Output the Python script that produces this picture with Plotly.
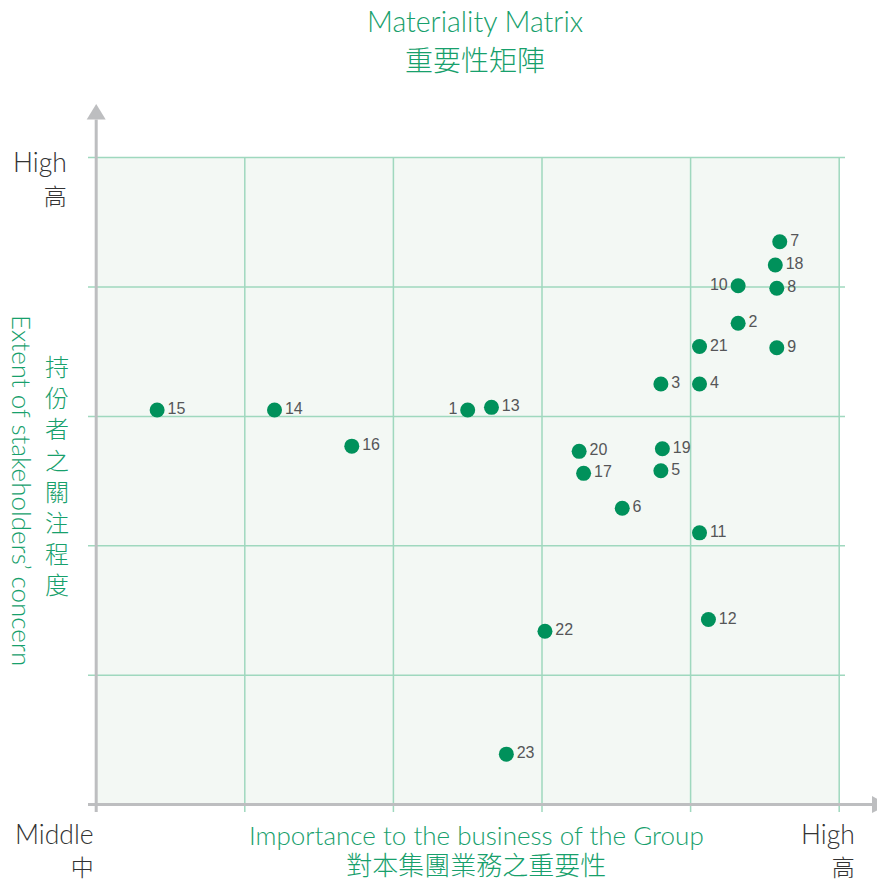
import plotly.graph_objects as go

# Material issues: importance to the Group's business (x) vs stakeholders' concern (y)
issue_ids = [str(i) for i in range(1, 24)]
business_importance = [2.50, 4.32, 3.80, 4.06, 3.80, 3.54, 4.60, 4.58, 4.58, 4.32, 4.06, 4.12,
                       2.66, 1.20, 0.41, 1.72, 3.28, 4.57, 3.81, 3.25, 4.06, 3.02, 2.76]
stakeholder_concern = [3.05, 3.72, 3.25, 3.25, 2.58, 2.29, 4.35, 3.99, 3.53, 4.01, 2.10, 1.43,
                       3.07, 3.05, 3.05, 2.77, 2.56, 4.17, 2.75, 2.73, 3.54, 1.34, 0.39]
left_labelled = ["1", "10"]

grid_steps = [1, 2, 3, 4, 5]

GREEN_TEXT = "#17a06c"
MARKER = "#00915b"
GRID = "#9fd8be"
FILL = "#f3f8f4"
AXIS = "#bdbec0"
DARK = "#333333"
LABEL = "#555658"

W, H = 877, 883
ML, MR, MT, MB = 60, 0, 95, 53

# axis scale: pixels per unit, used for range and overhangs
UX, UY = 148.6, 129.4
OX, OY = 96.2, 804.6
x_range = [(ML - OX) / UX, (W - MR - OX) / UX]
y_range = [(OY - (H - MB)) / UY, (OY - MT) / UY]


def px(xp):
    return (xp - ML) / (W - ML - MR)


def py(yp):
    return ((H - MB) - yp) / (H - MT - MB)


fig = go.Figure()

fig.add_trace(go.Scatter(
    x=business_importance,
    y=stakeholder_concern,
    mode="markers+text",
    text=issue_ids,
    textposition=["middle left" if t in left_labelled else "middle right" for t in issue_ids],
    textfont=dict(family="Liberation Sans, Arial, sans-serif", size=16, color=LABEL),
    marker=dict(size=15, color=MARKER, line=dict(width=0)),
    hoverinfo="skip",
    showlegend=False,
    cliponaxis=False,
))

shapes = []
grid_end = (845 - OX) / UX
tick_x = (88 - OX) / UX
tick_y = (OY - 812) / UY

# shaded matrix area
shapes.append(dict(type="rect", xref="x", yref="y", x0=0, x1=5, y0=0, y1=5,
                   fillcolor=FILL, line=dict(width=0), layer="below"))
# grid lines with small overhangs past the axes
for g in grid_steps:
    shapes.append(dict(type="line", xref="x", yref="y", x0=g, x1=g, y0=tick_y, y1=5,
                       line=dict(color=GRID, width=1.5), layer="below"))
    shapes.append(dict(type="line", xref="x", yref="y", x0=tick_x, x1=grid_end, y0=g, y1=g,
                       line=dict(color=GRID, width=1.5), layer="below"))

# axes with arrow heads
y_tip, y_base = (OY - 104) / UY, (OY - 119.5) / UY
x_tip, x_base = (888 - OX) / UX, (872 - OX) / UX
hw_x = 9.5 / UX
hw_y = 8.5 / UY
shapes.append(dict(type="line", xref="x", yref="y", x0=0, x1=0, y0=tick_y, y1=y_base,
                   line=dict(color=AXIS, width=3), layer="below"))
shapes.append(dict(type="line", xref="x", yref="y", x0=tick_x, x1=x_base, y0=0, y1=0,
                   line=dict(color=AXIS, width=3), layer="below"))
shapes.append(dict(type="path", xref="x", yref="y",
                   path=f"M {-hw_x} {y_base} L {hw_x} {y_base} L 0 {y_tip} Z",
                   fillcolor=AXIS, line=dict(width=0), layer="below"))
shapes.append(dict(type="path", xref="x", yref="y",
                   path=f"M {x_base} {-hw_y} L {x_base} {hw_y} L {x_tip} 0 Z",
                   fillcolor=AXIS, line=dict(width=0), layer="below"))

LATIN = "Lato, 'Open Sans', sans-serif"
CJK = "'Noto Sans CJK TC', 'Noto Sans CJK SC', sans-serif"


def span(text, family, size):
    fam = family.replace("'", "")
    return f"<span style='font-family:{fam};font-size:{size}px'>{text}</span>"


def two_lines(latin, cjk, latin_size, cjk_size):
    return span(latin, LATIN, latin_size) + "<br>" + span(cjk, CJK, cjk_size)


def note(text, x, y, size, color, family, xanchor="center", yanchor="middle",
         angle=0, align="center"):
    # `size` also sets the line pitch of multi-line notes (1.3 x size)
    return dict(text=text, x=px(x), y=py(y), xref="paper", yref="paper",
                showarrow=False, xanchor=xanchor, yanchor=yanchor, textangle=angle,
                align=align, borderpad=0,
                font=dict(family=family, size=size, color=color, weight=300))


annotations = [
    note(two_lines("Materiality Matrix", "重要性矩陣", 28.5, 28), 475, 41.5, 30,
         GREEN_TEXT, LATIN),
    note(two_lines("High", "高", 26.5, 23), 68, 179, 25.4, DARK, LATIN,
         xanchor="right", align="right"),
    note(two_lines("Middle", "中", 26.5, 23), 95, 851, 24.6, DARK, LATIN,
         xanchor="right", align="right"),
    note(two_lines("High", "高", 26.5, 23), 856, 851, 24.6, DARK, LATIN,
         xanchor="right", align="right"),
    note(two_lines("Importance to the business of the Group", "對本集團業務之重要性", 26, 26),
         476, 851, 23.1, GREEN_TEXT, LATIN),
    note("Extent of stakeholders\u2019 concern", 22, 490, 26, GREEN_TEXT, LATIN, angle=90),
    note("<br>".join("持份者之關注程度"), 57, 474, 24, GREEN_TEXT, CJK),
]

fig.update_layout(
    width=W, height=H,
    margin=dict(l=ML, r=MR, t=MT, b=MB),
    paper_bgcolor="white",
    plot_bgcolor="white",
    xaxis=dict(range=x_range, visible=False, fixedrange=True),
    yaxis=dict(range=y_range, visible=False, fixedrange=True),
    shapes=shapes,
    annotations=annotations,
)

fig.write_html("out.html")
